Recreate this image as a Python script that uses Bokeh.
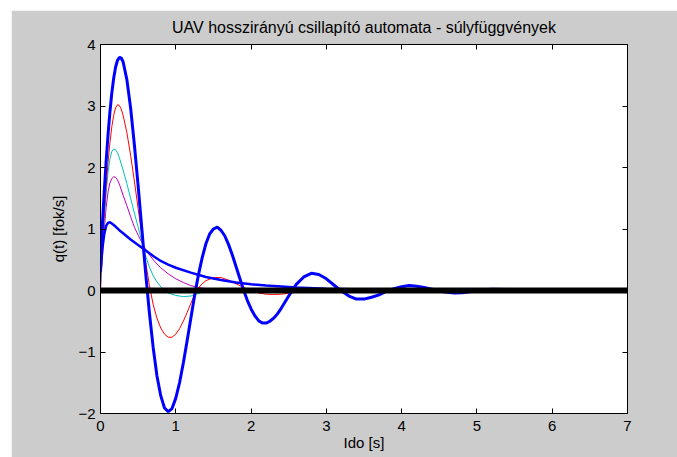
from bokeh.plotting import figure
from bokeh.models import LinearAxis, Range1d, FixedTicker, CustomLabelingPolicy
from bokeh.embed import file_html
from bokeh.resources import INLINE

# ---- data ----
title_text = "UAV hosszirányú csillapító automata - súlyfüggvények"
x_label = "Ido [s]"
y_label = "q(t) [fok/s]"
x_ticks = [0, 1, 2, 3, 4, 5, 6, 7]
y_ticks = [-2, -1, 0, 1, 2, 3, 4]

t_b1 = [0, 0.025, 0.05, 0.075, 0.1, 0.125, 0.15, 0.175, 0.2, 0.225, 0.25, 0.275, 0.3,
        0.35, 0.4, 0.45, 0.5, 0.55, 0.6, 0.65, 0.7, 0.75, 0.8, 0.85, 0.9, 0.95, 1.0,
        1.05, 1.1, 1.15, 1.2, 1.25, 1.3, 1.35, 1.4, 1.45, 1.5, 1.55, 1.6, 1.65, 1.7,
        1.75, 1.8, 1.85, 1.9, 1.95, 2.0, 2.05, 2.1, 2.15, 2.2, 2.25, 2.3, 2.35, 2.4,
        2.5, 2.6, 2.7, 2.8, 2.9, 3.0, 3.1, 3.2, 3.3, 3.4, 3.5, 3.6, 3.7, 3.8, 3.9,
        4.0, 4.1, 4.2, 4.3, 4.4, 4.5, 4.6, 4.7, 4.8, 4.9, 5.0, 5.2, 5.4, 5.6, 6.0, 7.0]
q_b1 = [0.49, 1.08, 1.61, 2.10, 2.53, 2.90, 3.21, 3.45, 3.63, 3.74, 3.79, 3.78, 3.72,
        3.43, 2.97, 2.37, 1.70, 0.99, 0.28, -0.37, -0.93, -1.39, -1.71, -1.91, -1.97, -1.92, -1.75,
        -1.50, -1.18, -0.82, -0.45, -0.08, 0.25, 0.53, 0.76, 0.92, 1.00, 1.03, 0.98, 0.89, 0.75,
        0.58, 0.39, 0.20, 0.01, -0.16, -0.30, -0.41, -0.49, -0.53, -0.53, -0.50, -0.45, -0.38, -0.29,
        -0.09, 0.10, 0.22, 0.28, 0.26, 0.19, 0.09, -0.01, -0.09, -0.14, -0.14, -0.11, -0.07, -0.01, 0.03,
        0.06, 0.08, 0.07, 0.05, 0.02, -0.01, -0.03, -0.04, -0.035, -0.02, 0.0, 0.02, 0.015, 0.0, 0.0, 0.0]

t_red = [0, 0.025, 0.05, 0.075, 0.1, 0.125, 0.15, 0.175, 0.2, 0.225, 0.25, 0.275, 0.3,
         0.35, 0.4, 0.45, 0.5, 0.55, 0.6, 0.65, 0.7, 0.75, 0.8, 0.85, 0.9, 0.95, 1.0,
         1.05, 1.1, 1.15, 1.2, 1.25, 1.3, 1.35, 1.4, 1.5, 1.6, 1.7, 1.8, 1.9, 2.0,
         2.1, 2.2, 2.3, 2.4, 2.5, 2.6, 2.8, 3.0, 3.2, 3.5, 4.0, 7.0]
q_red = [0.2, 0.75, 1.25, 1.70, 2.08, 2.40, 2.66, 2.85, 2.97, 3.02, 3.01, 2.95, 2.85,
         2.57, 2.20, 1.78, 1.33, 0.89, 0.46, 0.08, -0.23, -0.45, -0.61, -0.71, -0.76, -0.76, -0.71,
         -0.62, -0.50, -0.36, -0.21, -0.07, 0.04, 0.11, 0.16, 0.21, 0.21, 0.17, 0.11, 0.05, 0.0,
         -0.04, -0.06, -0.065, -0.06, -0.045, -0.03, 0.0, 0.01, 0.01, 0.0, 0.0, 0.0]

t_cyan = [0, 0.025, 0.05, 0.075, 0.1, 0.125, 0.15, 0.175, 0.2, 0.225, 0.25, 0.3, 0.35,
          0.4, 0.45, 0.5, 0.55, 0.6, 0.65, 0.7, 0.75, 0.8, 0.85, 0.9, 1.0, 1.1, 1.2,
          1.3, 1.4, 1.5, 1.7, 2.0, 2.5, 7.0]
q_cyan = [0.1, 0.65, 1.15, 1.58, 1.92, 2.14, 2.26, 2.30, 2.29, 2.24, 2.16, 1.96, 1.74,
          1.50, 1.26, 1.03, 0.79, 0.56, 0.38, 0.24, 0.14, 0.06, 0.0, -0.04, -0.08, -0.10, -0.09,
          -0.05, -0.01, 0.01, 0.02, 0.01, 0.0, 0.0]

t_mag = [0, 0.025, 0.05, 0.075, 0.1, 0.125, 0.15, 0.175, 0.2, 0.225, 0.25, 0.3, 0.35,
         0.4, 0.45, 0.5, 0.55, 0.6, 0.65, 0.7, 0.75, 0.8, 0.9, 1.0, 1.1, 1.2, 1.3,
         1.4, 1.6, 2.0, 7.0]
q_mag = [0.0, 0.55, 1.0, 1.35, 1.6, 1.75, 1.82, 1.85, 1.84, 1.80, 1.73, 1.55, 1.38,
         1.20, 1.03, 0.90, 0.78, 0.67, 0.58, 0.50, 0.43, 0.37, 0.27, 0.19, 0.13, 0.08, 0.05,
         0.03, 0.01, 0.0, 0.0]

t_b2 = [0, 0.025, 0.05, 0.075, 0.1, 0.125, 0.15, 0.2, 0.25, 0.3, 0.4, 0.5, 0.6, 0.7,
        0.8, 0.9, 1.0, 1.2, 1.4, 1.6, 1.8, 2.0, 2.2, 2.4, 2.6, 3.0, 3.5, 4.0, 4.5, 7.0]
q_b2 = [0.3, 0.68, 0.92, 1.05, 1.10, 1.11, 1.09, 1.04, 0.98, 0.93, 0.83, 0.74, 0.65, 0.56,
        0.48, 0.42, 0.37, 0.29, 0.22, 0.17, 0.13, 0.10, 0.08, 0.065, 0.05, 0.03, 0.015, 0.005, 0.0, 0.0]

t_zero = [0, 7]
q_zero = [0, 0]

FONT = "Liberation Sans"
GRAY = "#CCCCCC"
FS = "15px"

p = figure(width=666, height=447,
           x_range=Range1d(0, 7), y_range=Range1d(-2, 4),
           output_backend="svg", toolbar_location=None,
           min_border_left=89, min_border_right=50,
           min_border_top=34, min_border_bottom=44)
p.margin = (10, 0, 0, 11)
p.background_fill_color = "white"
p.border_fill_color = GRAY
p.outline_line_color = "black"
p.outline_line_width = 1
p.xgrid.visible = False
p.ygrid.visible = False

p.title.text = title_text
p.title.align = "center"
p.title.text_font = FONT
p.title.text_font_size = "16px"
p.title.text_font_style = "normal"
p.title.text_color = "black"
p.title.standoff = 3

no_labels = CustomLabelingPolicy(code="return []")

def style_axis(ax, ticks, show_labels, standoff=4, hidden_size="5px"):
    ax.ticker = FixedTicker(ticks=ticks)
    ax.major_tick_in = 5
    ax.major_tick_out = 0
    ax.minor_tick_in = 0
    ax.minor_tick_out = 0
    ax.axis_line_color = "black"
    ax.major_tick_line_color = "black"
    ax.major_label_text_font = FONT
    ax.major_label_text_color = "black"
    if show_labels:
        ax.major_label_text_font_size = FS
        ax.major_label_standoff = standoff
    else:
        ax.major_label_text_font_size = hidden_size
        ax.major_label_policy = no_labels
        ax.major_label_standoff = 0

xa = p.xaxis[0]
ya = p.yaxis[0]
style_axis(xa, x_ticks, True, 7)
style_axis(ya, y_ticks, True, 5)
xa.axis_label = x_label
ya.axis_label = y_label
for ax in (xa, ya):
    ax.axis_label_text_font = FONT
    ax.axis_label_text_font_size = FS
    ax.axis_label_text_font_style = "normal"
    ax.axis_label_text_color = "black"
xa.axis_label_standoff = 0
ya.axis_label_standoff = 8

top = LinearAxis()
style_axis(top, x_ticks, False, hidden_size="5px")
p.add_layout(top, "above")
right = LinearAxis()
style_axis(right, y_ticks, False, hidden_size="5px")
p.add_layout(right, "right")

p.line(t_mag, q_mag, line_color="#BF00BF", line_width=1)
p.line(t_cyan, q_cyan, line_color="#00BFBF", line_width=1)
p.line(t_red, q_red, line_color="#FF0000", line_width=1)
p.line(t_b1, q_b1, line_color="#0000FF", line_width=3)
p.line(t_b2, q_b2, line_color="#0000FF", line_width=2.5)
p.line(t_zero, q_zero, line_color="black", line_width=6)

open("out.html", "w").write(file_html(p, INLINE))
